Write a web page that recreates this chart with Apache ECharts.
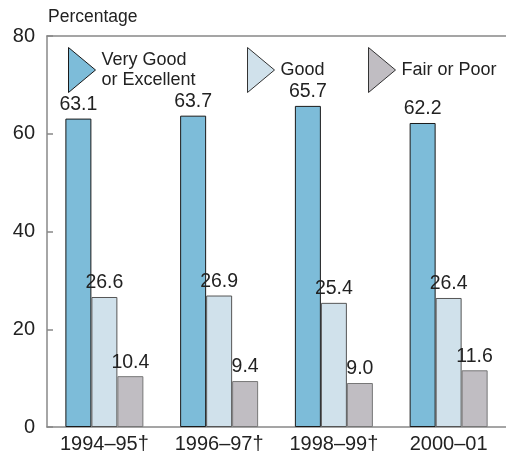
<!DOCTYPE html>
<html>
<head>
<meta charset="utf-8">
<script src="https://cdn.jsdelivr.net/npm/echarts@6/dist/echarts.min.js"></script>
<style>
  html, body { margin: 0; padding: 0; background: #fff; }
  #chart { width: 506px; height: 455px; }
</style>
</head>
<body>
<div id="chart"></div>
<script>
// Self-reported health status by survey period (percent)
const periods = ['1994–95†', '1996–97†', '1998–99†', '2000–01'];
const veryGoodOrExcellent = [63.1, 63.7, 65.7, 62.2];
const good = [26.6, 26.9, 25.4, 26.4];
const fairOrPoor = [10.4, 9.4, 9.0, 11.6];
const yTicks = [0, 20, 40, 60, 80];

const FONT = '"Liberation Sans", Arial, Helvetica, sans-serif';
const TEXT = '#222';
const triangle = 'path://M0,0L27,22.5L0,45Z';

function barSeries(name, values, fill, edge) {
  return {
    name: name,
    type: 'bar',
    data: values,
    barWidth: 26,
    barGap: '0%',
    itemStyle: { color: fill, borderColor: edge, borderWidth: 1 },
    label: {
      show: true,
      position: 'top',
      distance: 4,
      fontFamily: FONT,
      fontSize: 19.5,
      color: TEXT,
      formatter: p => p.value.toFixed(1)
    }
  };
}

function legendAt(left, name, edge) {
  return {
    left: left,
    top: 42,
    icon: triangle,
    itemWidth: 27,
    itemHeight: 45,
    itemGap: 0,
    data: [name],
    selectedMode: false,
    itemStyle: { borderColor: edge, borderWidth: 1 },
    textStyle: { fontFamily: FONT, fontSize: 18, color: TEXT, lineHeight: 20, padding: [0, 0, 0, 1] }
  };
}

const chart = echarts.init(document.getElementById('chart'), null, { renderer: 'canvas' });
chart.setOption({
  animation: false,
  backgroundColor: '#fff',
  textStyle: { fontFamily: FONT },
  grid: { left: 47, right: 0, top: 36, bottom: 28, containLabel: false },
  legend: [
    legendAt(63, 'Very Good\nor Excellent', '#1a1a1a'),
    legendAt(242, 'Good', '#333'),
    legendAt(363, 'Fair or Poor', '#333')
  ],
  graphic: [{
    type: 'text',
    left: 48,
    top: 8,
    style: { text: 'Percentage', font: '17.5px ' + FONT, fill: TEXT }
  }],
  xAxis: [{
    type: 'category',
    data: periods,
    axisLine: { lineStyle: { color: '#888', width: 1.5 } },
    axisTick: { show: false },
    axisLabel: { interval: 0, hideOverlap: false, fontFamily: FONT, fontSize: 20, color: TEXT, margin: 7 }
  }, {
    type: 'category',
    position: 'top',
    data: periods,
    axisLine: { lineStyle: { color: '#888', width: 1.5 } },
    axisTick: { show: false },
    axisLabel: { show: false }
  }],
  yAxis: {
    type: 'value',
    min: yTicks[0],
    max: yTicks[yTicks.length - 1],
    interval: yTicks[1] - yTicks[0],
    axisLine: { show: true, lineStyle: { color: '#888', width: 1.5 } },
    axisTick: { show: true, inside: true, length: 6, lineStyle: { color: '#888', width: 1.5 } },
    splitLine: { show: false },
    axisLabel: { fontFamily: FONT, fontSize: 20, color: TEXT, margin: 12 }
  },
  series: [
    barSeries('Very Good\nor Excellent', veryGoodOrExcellent, '#7dbcd9', '#1a1a1a'),
    barSeries('Good', good, '#d0e1eb', '#555'),
    barSeries('Fair or Poor', fairOrPoor, '#c0bdc2', '#777')
  ]
});
</script>
</body>
</html>
